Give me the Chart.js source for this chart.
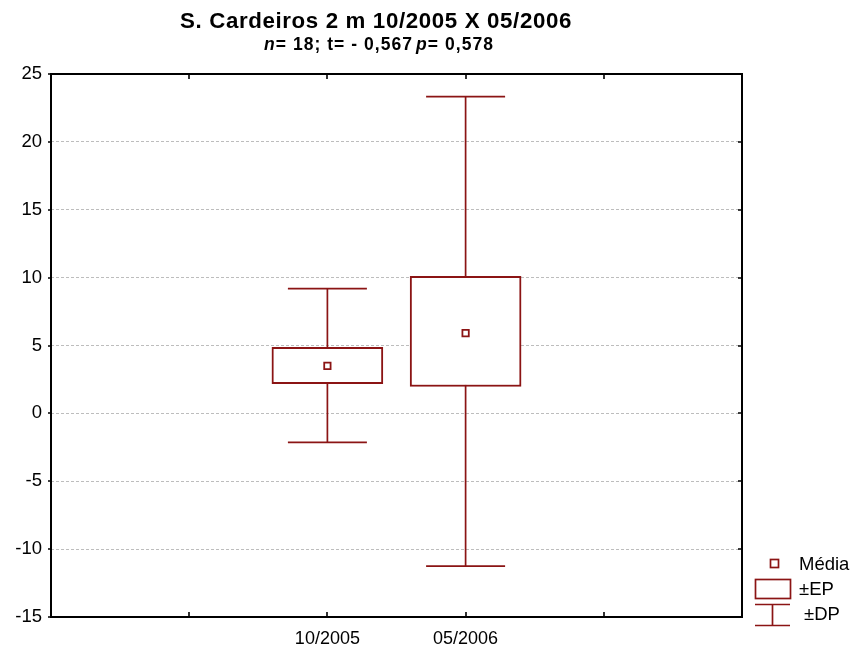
<!DOCTYPE html>
<html lang="pt">
  <head>
    <meta charset="UTF-8" />
    <title>S. Cardeiros 2 m 10/2005 X 05/2006</title>
    <script src="https://cdn.jsdelivr.net/npm/chart.js"></script>
    <style>
      body {
        margin: 0;
        background: #fff;
      }
      #wrap {
        width: 858px;
        height: 651px;
      }
    </style>
  </head>
  <body>
    <div id="wrap"><canvas id="myChart"></canvas></div>
    <script>
      // data
      const categories = ["10/2005", "05/2006"];
      const means = [3.5, 5.91];
      const epLow = [2.18, 1.98];
      const epHigh = [4.86, 10.1];
      const dpLow = [-2.14, -11.25];
      const dpHigh = [9.19, 23.33];
      const yMin = -15;
      const yMax = 25;
      const yStep = 5;

      // x axis has 6 slots (0..5), the two groups sit on slots 2 and 3
      const slotLabels = ["", "", categories[0], categories[1], "", ""];
      const pad = (arr) => [null, null, arr[0], arr[1], null, null];

      const RED = "#8b1414";
      const FONT = 'Arial, "Liberation Sans", sans-serif';

      // draw mixed-style text left aligned, spread to a given width
      function spreadText(ctx, parts, x, y, width) {
        let natural = 0;
        let chars = 0;
        ctx.letterSpacing = "0px";
        parts.forEach((p) => {
          ctx.font = p.font;
          natural += ctx.measureText(p.text).width + (p.gap || 0);
          chars += p.text.length;
        });
        const ls = Math.max(0, (width - natural) / chars);
        ctx.letterSpacing = ls + "px";
        parts.forEach((p) => {
          ctx.font = p.font;
          x += p.gap || 0;
          ctx.fillText(p.text, x, y);
          x += ctx.measureText(p.text).width;
        });
        ctx.letterSpacing = "0px";
      }

      const drawPlugin = {
        id: "statistica",
        beforeDatasetsDraw(chart) {
          // ±DP whiskers, under the boxes
          const ctx = chart.ctx;
          const xs = chart.scales.x;
          const ys = chart.scales.y;
          ctx.save();
          ctx.strokeStyle = RED;
          ctx.lineWidth = 1.7;
          categories.forEach((c, i) => {
            const x = xs.getPixelForValue(i + 2);
            const yt = ys.getPixelForValue(dpHigh[i]);
            const yb = ys.getPixelForValue(dpLow[i]);
            ctx.beginPath();
            ctx.moveTo(x, yt);
            ctx.lineTo(x, yb);
            ctx.moveTo(x - 39.5, yt);
            ctx.lineTo(x + 39.5, yt);
            ctx.moveTo(x - 39.5, yb);
            ctx.lineTo(x + 39.5, yb);
            ctx.stroke();
          });
          ctx.restore();
        },
        afterDraw(chart) {
          const ctx = chart.ctx;
          const a = chart.chartArea;
          const xs = chart.scales.x;
          const ys = chart.scales.y;
          ctx.save();

          // frame
          ctx.strokeStyle = "#000";
          ctx.lineWidth = 2;
          ctx.strokeRect(a.left, a.top, a.right - a.left, a.bottom - a.top);

          // tick marks
          ctx.lineWidth = 1.6;
          ctx.beginPath();
          for (let k = 1; k < slotLabels.length - 1; k++) {
            const x = Math.round(xs.getPixelForValue(k));
            ctx.moveTo(x, a.top);
            ctx.lineTo(x, a.top + 5);
            ctx.moveTo(x, a.bottom);
            ctx.lineTo(x, a.bottom - 5);
          }
          for (let v = yMin; v <= yMax; v += yStep) {
            const y = Math.round(ys.getPixelForValue(v));
            ctx.moveTo(a.left - 3, y);
            ctx.lineTo(a.left, y);
            ctx.moveTo(a.right, y);
            ctx.lineTo(a.right - 4, y);
          }
          ctx.stroke();

          // title and subtitle
          ctx.fillStyle = "#000";
          ctx.textAlign = "left";
          ctx.textBaseline = "alphabetic";
          spreadText(
            ctx,
            [{ text: "S. Cardeiros 2 m 10/2005 X 05/2006", font: "bold 22.3px " + FONT }],
            180,
            28,
            392
          );
          const b = "bold 17.5px " + FONT;
          const bi = "italic bold 17.5px " + FONT;
          spreadText(
            ctx,
            [
              { text: "n", font: bi },
              { text: "= 18; t= - 0,567", font: b },
              { text: "p", font: bi, gap: 3 },
              { text: "= 0,578", font: b },
            ],
            264,
            50,
            230
          );

          // legend
          ctx.strokeStyle = RED;
          ctx.lineWidth = 1.7;
          ctx.strokeRect(770.5, 559.5, 8, 8);
          ctx.strokeRect(755.5, 579.5, 35, 19);
          ctx.beginPath();
          ctx.moveTo(755, 604.5);
          ctx.lineTo(790, 604.5);
          ctx.moveTo(772.5, 604.5);
          ctx.lineTo(772.5, 625.5);
          ctx.moveTo(755, 625.5);
          ctx.lineTo(790, 625.5);
          ctx.stroke();
          ctx.fillStyle = "#000";
          ctx.font = "18.5px " + FONT;
          ctx.textBaseline = "alphabetic";
          ctx.fillText("Média", 799, 570);
          ctx.fillText("±EP", 799, 594.5);
          ctx.fillText("±DP", 804, 619.5);
          ctx.restore();
        },
      };

      const ctx = document.getElementById("myChart").getContext("2d");
      new Chart(ctx, {
        type: "bar",
        data: {
          labels: slotLabels,
          datasets: [
            {
              label: "Média",
              type: "line",
              data: pad(means),
              showLine: false,
              pointStyle: "rect",
              pointRadius: 4.5,
              pointBackgroundColor: "#fff",
              pointBorderColor: RED,
              pointBorderWidth: 1.8,
              order: 0,
            },
            {
              label: "±EP",
              data: pad(epLow.map((v, i) => [v, epHigh[i]])),
              backgroundColor: "#fff",
              borderColor: RED,
              borderWidth: 2,
              borderSkipped: false,
              barThickness: 111,
              order: 1,
            },
          ],
        },
        options: {
          responsive: true,
          maintainAspectRatio: false,
          animation: false,
          layout: { padding: { top: 74, right: 116, left: 0, bottom: 0 } },
          plugins: {
            legend: { display: false },
            tooltip: { enabled: false },
          },
          scales: {
            x: {
              offset: false,
              grid: { display: false, offset: false, drawTicks: false },
              border: { display: false },
              ticks: {
                color: "#000",
                font: { family: FONT, size: 18 },
                padding: 11,
                autoSkip: false,
                maxRotation: 0,
              },
              afterFit(scale) {
                scale.height = 34;
              },
            },
            y: {
              min: yMin,
              max: yMax,
              grid: {
                color: "#bdbdbd",
                lineWidth: 1,
                drawTicks: false,
              },
              border: { display: false, dash: [3, 2] },
              ticks: {
                stepSize: yStep,
                color: "#000",
                font: { family: FONT, size: 18.5 },
                padding: 9,
              },
              afterFit(scale) {
                scale.width = 51;
              },
            },
          },
        },
        plugins: [drawPlugin],
      });
    </script>
  </body>
</html>
